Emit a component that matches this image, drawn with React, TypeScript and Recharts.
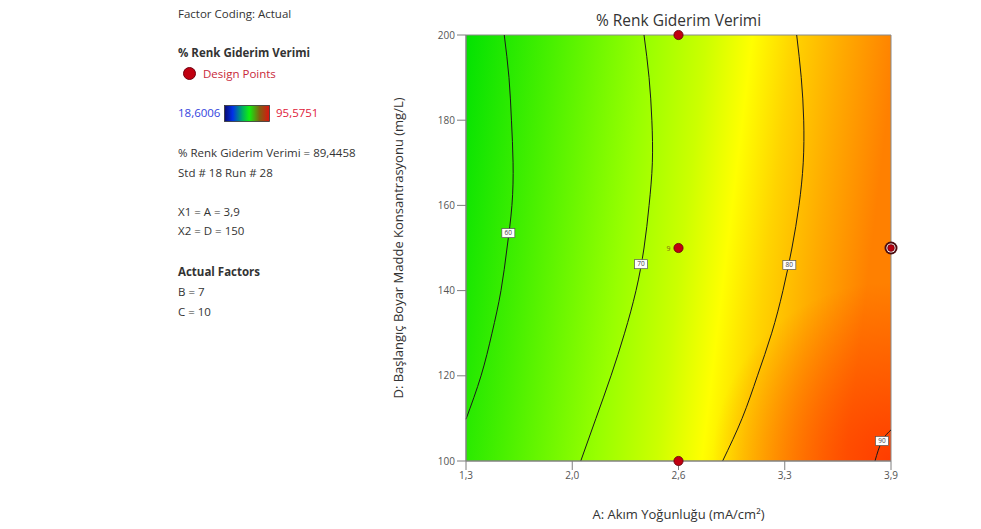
import React from "react";
import {
  ComposedChart,
  Line,
  Scatter,
  XAxis,
  YAxis,
  ReferenceArea,
} from "recharts";

// A: current density (mA/cm²) and D: initial dye concentration (mg/L)
const xTicks = [1.3, 1.95, 2.6, 3.25, 3.9];
const xTickLabels = ["1,3", "2,0", "2,6", "3,3", "3,9"];
const yTicks = [100, 120, 140, 160, 180, 200];

// contour lines of % colour removal, top to bottom
const contour60 = [
  { x: 1.534, y: 200 },
  { x: 1.563, y: 190 },
  { x: 1.578, y: 180 },
  { x: 1.588, y: 170 },
  { x: 1.581, y: 160 },
  { x: 1.551, y: 150 },
  { x: 1.514, y: 140 },
  { x: 1.459, y: 130 },
  { x: 1.392, y: 120 },
  { x: 1.3, y: 109.8 },
];
const contour70 = [
  { x: 2.389, y: 200 },
  { x: 2.42, y: 190 },
  { x: 2.437, y: 180 },
  { x: 2.44, y: 170 },
  { x: 2.42, y: 160 },
  { x: 2.389, y: 150 },
  { x: 2.34, y: 140 },
  { x: 2.27, y: 130 },
  { x: 2.187, y: 120 },
  { x: 2.095, y: 110 },
  { x: 2.002, y: 100 },
];
const contour80 = [
  { x: 3.323, y: 200 },
  { x: 3.351, y: 190 },
  { x: 3.366, y: 180 },
  { x: 3.363, y: 170 },
  { x: 3.337, y: 160 },
  { x: 3.294, y: 150 },
  { x: 3.239, y: 140 },
  { x: 3.17, y: 130 },
  { x: 3.083, y: 120 },
  { x: 2.989, y: 110 },
  { x: 2.87, y: 100 },
];
const contour90 = [
  { x: 3.9, y: 107.3 },
  { x: 3.845, y: 104.7 },
  { x: 3.802, y: 100 },
];
const contourLabels = [
  { x: 1.559, y: 153.5, label: "60" },
  { x: 2.371, y: 146.2, label: "70" },
  { x: 3.278, y: 146, label: "80" },
  { x: 3.845, y: 104.7, label: "90" },
];

const designPoints = [
  { x: 2.6, y: 200, note: "", selected: false },
  { x: 2.6, y: 150, note: "9", selected: false },
  { x: 2.6, y: 100, note: "", selected: false },
  { x: 3.9, y: 150, note: "", selected: true },
];

const FONT = "'Open Sans', 'Noto Sans', sans-serif";

const DesignPoint = (props: any) => {
  const { cx, cy, payload } = props;
  if (payload.selected) {
    return (
      <g>
        <circle cx={cx} cy={cy} r={6.5} fill="#4a0c10" />
        <circle cx={cx} cy={cy} r={4.6} fill="#ffffff" />
        <circle cx={cx} cy={cy} r={3.4} fill="#b80010" stroke="#5a0008" strokeWidth={0.6} />
      </g>
    );
  }
  return (
    <g>
      <circle cx={cx} cy={cy} r={4.6} fill="#c00010" stroke="#60000a" strokeWidth={0.8} />
      {payload.note ? (
        <text x={cx - 10} y={cy + 2.5} fontSize={7} fill="#7a6a10" fontFamily={FONT} textAnchor="middle">
          {payload.note}
        </text>
      ) : null}
    </g>
  );
};

const ContourLabel = (props: any) => {
  const { cx, cy, payload } = props;
  return (
    <g>
      <rect x={cx - 6.5} y={cy - 4.5} width={13} height={9} fill="#ffffff" stroke="#555" strokeWidth={0.7} />
      <text x={cx} y={cy + 2.3} fontSize={6.5} fill="#444" fontFamily={FONT} textAnchor="middle">
        {payload.label}
      </text>
    </g>
  );
};

const legendText: React.CSSProperties = {
  position: "absolute",
  left: 178,
  fontFamily: FONT,
  fontSize: 11.5,
  color: "#333",
  whiteSpace: "nowrap",
  lineHeight: "14px",
};

export default function App() {
  const contours = [contour60, contour70, contour80, contour90];
  return (
    <div style={{ position: "absolute", left: 0, top: 0, width: 981, height: 529, background: "#fff" }}>
      <svg width={0} height={0} style={{ position: "absolute" }}>
        <defs>
          <linearGradient id="field" x1="0" y1="0" x2="1" y2="0.12">
            <stop offset="0" stopColor="#02e202" />
            <stop offset="0.2" stopColor="#48f000" />
            <stop offset="0.42" stopColor="#98ff00" />
            <stop offset="0.56" stopColor="#ccff00" />
            <stop offset="0.665" stopColor="#ffff00" />
            <stop offset="0.76" stopColor="#ffd400" />
            <stop offset="0.87" stopColor="#ffac00" />
            <stop offset="1" stopColor="#ff8000" />
          </linearGradient>
          <radialGradient id="hot" cx="1" cy="1" r="0.42">
            <stop offset="0" stopColor="#ff3000" stopOpacity={0.85} />
            <stop offset="1" stopColor="#ff3000" stopOpacity={0} />
          </radialGradient>
          <linearGradient id="colorbar" x1="0" y1="0" x2="1" y2="0">
            <stop offset="0" stopColor="#0a0a70" />
            <stop offset="0.18" stopColor="#0030e8" />
            <stop offset="0.4" stopColor="#00b060" />
            <stop offset="0.55" stopColor="#10f010" />
            <stop offset="0.78" stopColor="#806010" />
            <stop offset="1" stopColor="#e01010" />
          </linearGradient>
        </defs>
      </svg>

      <div style={{ ...legendText, top: 7 }}>Factor Coding: Actual</div>
      <div style={{ ...legendText, top: 46, fontWeight: 700 }}>% Renk Giderim Verimi</div>
      <div
        style={{
          position: "absolute",
          left: 183,
          top: 67,
          width: 13,
          height: 13,
          borderRadius: "50%",
          background: "#c00010",
          boxSizing: "border-box",
          border: "1px solid #700010",
        }}
      />
      <div style={{ ...legendText, left: 203, top: 67, color: "#c8283a" }}>Design Points</div>
      <div style={{ ...legendText, top: 106, color: "#3344dd" }}>18,6006</div>
      <svg width={46} height={17} style={{ position: "absolute", left: 224, top: 105 }}>
        <rect x={0.5} y={0.5} width={45} height={16} fill="url(#colorbar)" stroke="#333" strokeWidth={0.8} />
      </svg>
      <div style={{ ...legendText, left: 276, top: 106, color: "#e0203a" }}>95,5751</div>
      <div style={{ ...legendText, top: 146 }}>% Renk Giderim Verimi = 89,4458</div>
      <div style={{ ...legendText, top: 166 }}>Std # 18 Run # 28</div>
      <div style={{ ...legendText, top: 205 }}>X1 = A = 3,9</div>
      <div style={{ ...legendText, top: 224 }}>X2 = D = 150</div>
      <div style={{ ...legendText, top: 265, fontWeight: 700 }}>Actual Factors</div>
      <div style={{ ...legendText, top: 285 }}>B = 7</div>
      <div style={{ ...legendText, top: 305 }}>C = 10</div>

      <div
        style={{
          position: "absolute",
          left: 466,
          width: 425,
          top: 9,
          textAlign: "center",
          fontFamily: FONT,
          fontSize: 15.5,
          color: "#333",
        }}
      >
        % Renk Giderim Verimi
      </div>

      <ComposedChart
        width={981}
        height={529}
        margin={{ top: 35, right: 90, bottom: 6, left: 406 }}
        style={{ position: "absolute", left: 0, top: 0 }}
      >
        <XAxis
          type="number"
          dataKey="x"
          domain={[1.3, 3.9]}
          ticks={xTicks}
          tickFormatter={(v: number) => xTickLabels[xTicks.indexOf(v)] ?? String(v)}
          height={62}
          tickSize={9}
          stroke="#7f7f7f"
          tick={{ fontSize: 10, fill: "#555", fontFamily: FONT }}
          label={{
            value: "A: Akım Yoğunluğu (mA/cm²)",
            position: "insideBottom",
            offset: 4,
            style: { fontSize: 13, fill: "#333", fontFamily: FONT },
          }}
        />
        <YAxis
          type="number"
          dataKey="y"
          domain={[100, 200]}
          ticks={yTicks}
          width={60}
          tickSize={9}
          stroke="#7f7f7f"
          tick={{ fontSize: 10, fill: "#555", fontFamily: FONT }}
          label={{
            value: "D: Başlangıç Boyar Madde Konsantrasyonu (mg/L)",
            angle: -90,
            position: "insideLeft",
            dx: -13,
            style: { textAnchor: "middle", fontSize: 13, fill: "#333", fontFamily: FONT },
          }}
        />
        <ReferenceArea x1={1.3} x2={3.9} y1={100} y2={200} fill="url(#field)" fillOpacity={1} stroke="none" />
        <ReferenceArea x1={1.3} x2={3.9} y1={100} y2={200} fill="url(#hot)" fillOpacity={1} stroke="#8a8a8a" strokeWidth={1} />
        {contours.map((c, i) => (
          <Line
            key={i}
            data={c}
            dataKey="y"
            type="natural"
            stroke="#1a1a1a"
            strokeWidth={1}
            dot={false}
            activeDot={false}
            isAnimationActive={false}
          />
        ))}
        <Scatter data={contourLabels} dataKey="y" shape={ContourLabel} isAnimationActive={false} />
        <Scatter data={designPoints} dataKey="y" shape={DesignPoint} isAnimationActive={false} />
      </ComposedChart>
    </div>
  );
}
